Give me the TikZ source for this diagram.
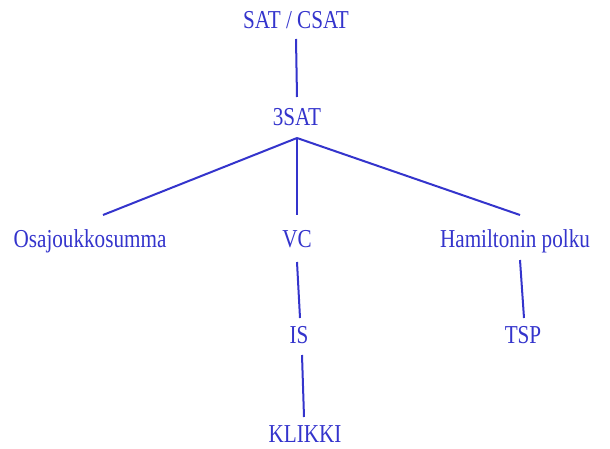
\documentclass[tikz,border=0pt]{standalone}
\usepackage{fontspec}
\setmainfont{Liberation Serif}[FakeStretch=0.82]
\definecolor{ink}{RGB}{52,52,204}
\begin{document}
\begin{tikzpicture}[x=1pt,y=1pt,
  lbl/.style={text=ink,font=\fontsize{25.8}{30}\selectfont,inner sep=0pt,anchor=base},
  edge/.style={draw=ink,line width=2pt}]
\useasboundingbox (0,0) rectangle (610,448);
\node[lbl] (sat) at (296,419) {SAT / CSAT};
\node[lbl] (sat3) at (297,322) {3SAT};
\node[lbl] (osa) at (90,201) {Osajoukkosumma};
\node[lbl] (vc) at (297,201) {VC};
\node[lbl] (ham) at (515,201) {Hamiltonin polku};
\node[lbl] (is) at (299,105) {IS};
\node[lbl] (tsp) at (523,105) {TSP};
\node[lbl] (kl) at (305,6) {KLIKKI};
\draw[edge] ([yshift=-10]sat.base) -- ([yshift=29]sat3.base);
\draw[edge] ([yshift=-12]sat3.base) -- ([shift={(13,32)}]osa.base);
\draw[edge] ([yshift=-12]sat3.base) -- ([yshift=32]vc.base);
\draw[edge] ([yshift=-12]sat3.base) -- ([shift={(5,32)}]ham.base);
\draw[edge] ([yshift=-15]vc.base) -- ([shift={(1,25)}]is.base);
\draw[edge] ([shift={(3,-12)}]is.base) -- ([shift={(-1,25)}]kl.base);
\draw[edge] ([shift={(5,-13)}]ham.base) -- ([shift={(1,25)}]tsp.base);
\end{tikzpicture}
\end{document}
